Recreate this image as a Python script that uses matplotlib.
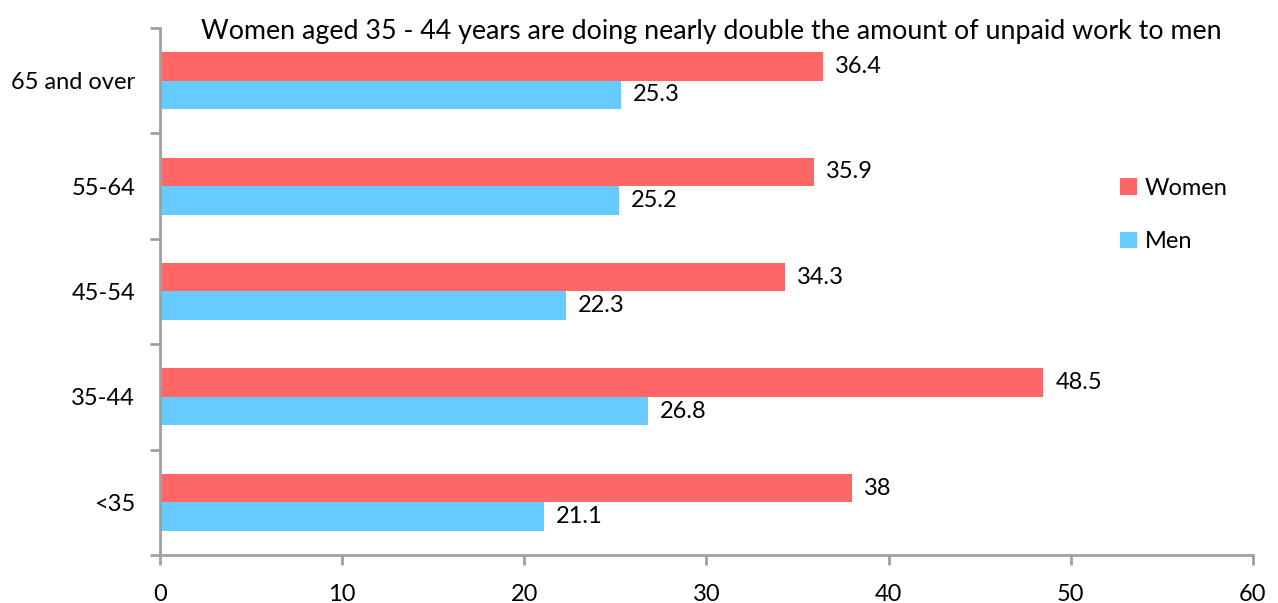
import matplotlib.pyplot as plt
import numpy as np

plt.rcParams['font.family'] = ['Lato', 'DejaVu Sans']

groups = ['<35', '35-44', '45-54', '55-64', '65 and over']
women = [38, 48.5, 34.3, 35.9, 36.4]
men = [21.1, 26.8, 22.3, 25.2, 25.3]
x_ticks = [0, 10, 20, 30, 40, 50, 60]

red = '#FF6666'
blue = '#66CCFF'
axis_grey = '#A0A0A0'
fs = 17

fig = plt.figure(figsize=(12.78, 6.03), dpi=100)
ax = fig.add_axes([0.1252, 0.0796, 0.8552, 0.874])

y = np.arange(len(groups))
h = 0.27
ax.barh(y + h / 2, women, height=h, color=red, label='Women')
ax.barh(y - h / 2, men, height=h, color=blue, label='Men')

for yi, w, m in zip(y, women, men):
    ax.text(w + 0.65, yi + h / 2, f'{w:g}', va='center', ha='left', fontsize=fs)
    ax.text(m + 0.65, yi - h / 2, f'{m:g}', va='center', ha='left', fontsize=fs)

ax.set_xlim(0, 60)
ax.set_ylim(-0.5, len(groups) - 0.5)
ax.set_xticks(x_ticks)
ax.set_yticks(y)
ax.set_yticklabels(groups)
ax.set_yticks(np.arange(-0.5, len(groups)), minor=True)

ax.tick_params(axis='x', length=7, width=2, color=axis_grey, labelsize=fs, pad=14)
ax.tick_params(axis='y', which='major', length=0, labelsize=fs, pad=18)
ax.tick_params(axis='y', which='minor', length=7, width=2, color=axis_grey)

for side in ['top', 'right']:
    ax.spines[side].set_visible(False)
for side in ['left', 'bottom']:
    ax.spines[side].set_color(axis_grey)
    ax.spines[side].set_linewidth(2)

# title sits low, just level with the top of the value axis
ax.set_title('Women aged 35 - 44 years are doing nearly double the amount of unpaid work to men',
             fontsize=19.3, y=1.0, pad=-8, x=0.504)

ax.legend(loc='center left', bbox_to_anchor=(0.859, 0.645), frameon=False, fontsize=fs,
          handlelength=0.7, handleheight=0.7, labelspacing=1.38, handletextpad=0.35)

fig.savefig('out.png', dpi=100)
